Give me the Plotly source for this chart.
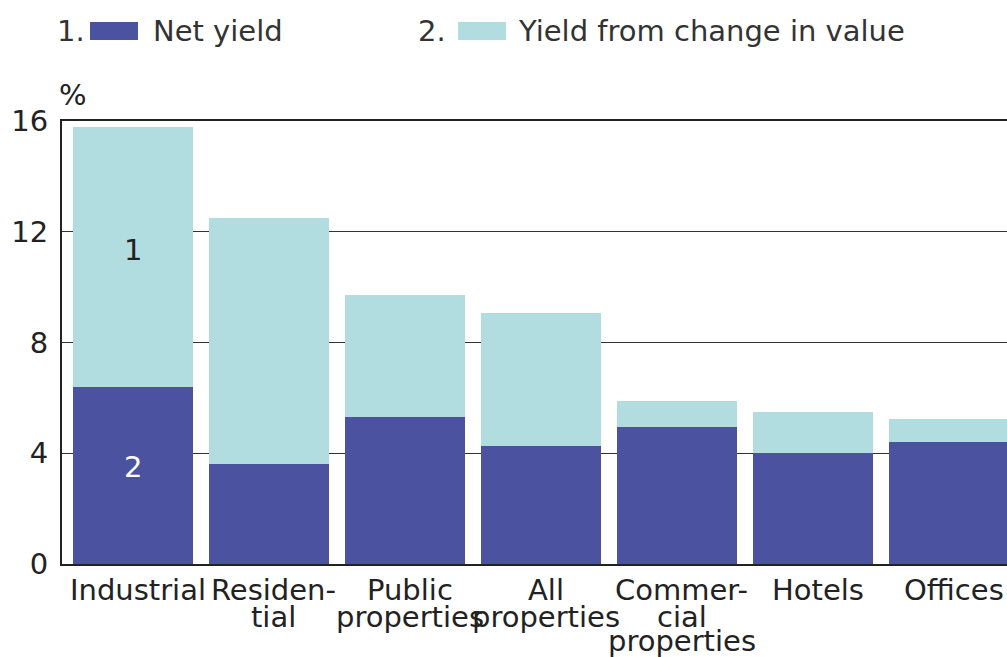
import plotly.graph_objects as go

categories = ["Industrial", "Residential", "Public properties", "All properties",
              "Commercial properties", "Hotels", "Offices"]
tick_lines = [["Industrial"], ["Residen-", "tial"], ["Public", "properties"],
              ["All", "properties"], ["Commer-", "cial", "properties"], ["Hotels"], ["Offices"]]
net_yield = [6.4, 3.6, 5.3, 4.25, 4.95, 4.0, 4.4]
change_yield = [9.4, 8.9, 4.4, 4.8, 0.95, 1.5, 0.85]
y_ticks = [0, 4, 8, 12, 16]

DARK = "#4b53a1"
LIGHT = "#b2dde0"
TXT = "#333333"
FONT = "DejaVu Sans"
FS = 29

W, H = 1007, 657
L, R, T, B = 62, 0, 121, 93


def px(x):
    return (x - L) / (W - L - R)


def py(y):
    return (H - B - y) / (H - T - B)


fig = go.Figure()
fig.add_trace(go.Bar(x=categories, y=net_yield, name="Net yield",
                     marker=dict(color=DARK, line=dict(width=0))))
fig.add_trace(go.Bar(x=categories, y=change_yield, name="Yield from change in value",
                     marker=dict(color=LIGHT, line=dict(width=0))))

# hand-made legend: number, swatch, label
legend = [("1.", 55, 90, 151, DARK, "Net yield"),
          ("2.", 416, 458, 516, LIGHT, "Yield from change in value")]
for num, nx, sx, tx, col, label in legend:
    fig.add_annotation(text=num, x=px(nx), y=py(31), xref="paper", yref="paper",
                       xanchor="left", yanchor="middle", showarrow=False,
                       font=dict(size=FS, color=TXT, family=FONT))
    fig.add_shape(type="rect", xref="paper", yref="paper",
                  x0=px(sx), x1=px(sx + 48), y0=py(40), y1=py(22),
                  fillcolor=col, line=dict(width=0))
    fig.add_annotation(text=label, x=px(tx), y=py(31), xref="paper", yref="paper",
                       xanchor="left", yanchor="middle", showarrow=False,
                       font=dict(size=FS, color=TXT, family=FONT))

fig.add_annotation(text="%", x=px(73), y=py(95), xref="paper", yref="paper",
                   xanchor="center", yanchor="middle", showarrow=False,
                   font=dict(size=FS, color="#222222", family=FONT))

# category labels, tightly spaced lines
line_y = [590, 617, 641]
for cat, lines in zip(categories, tick_lines):
    for i, txt in enumerate(lines):
        fig.add_annotation(text=txt, x=cat, y=py(line_y[i]), xref="x", yref="paper",
                           xanchor="center", yanchor="middle", showarrow=False, xshift=5,
                           font=dict(size=FS, color="#222222", family=FONT))

# series numbers inside the first bar
fig.add_annotation(text="1", x=categories[0], y=net_yield[0] + change_yield[0] * 0.527,
                   showarrow=False, font=dict(size=FS, color="#222222", family=FONT))
fig.add_annotation(text="2", x=categories[0], y=net_yield[0] * 0.547,
                   showarrow=False, font=dict(size=FS, color="white", family=FONT))

fig.update_layout(
    barmode="stack",
    bargap=0.118,
    width=W, height=H,
    margin=dict(l=L, r=R, t=T, b=B),
    plot_bgcolor="white", paper_bgcolor="white",
    showlegend=False,
    font=dict(family=FONT, size=FS, color=TXT),
    xaxis=dict(range=[-0.522, 6.427], showline=True, linecolor="#222222", linewidth=2,
               mirror=True, ticks="", showgrid=False, showticklabels=False),
    yaxis=dict(range=[0, 16], tickvals=y_ticks, showline=True, linecolor="#222222",
               linewidth=2, showgrid=True, gridcolor="#333333", gridwidth=1,
               ticks="", zeroline=False, ticklabelstandoff=6,
               tickfont=dict(size=FS, color="#222222")),
)

# drop the default 8px page margin so the figure sits at the window's corner
fig.write_html("out.html", config={"displayModeBar": False},
               post_script="document.body.style.margin='0px';")
